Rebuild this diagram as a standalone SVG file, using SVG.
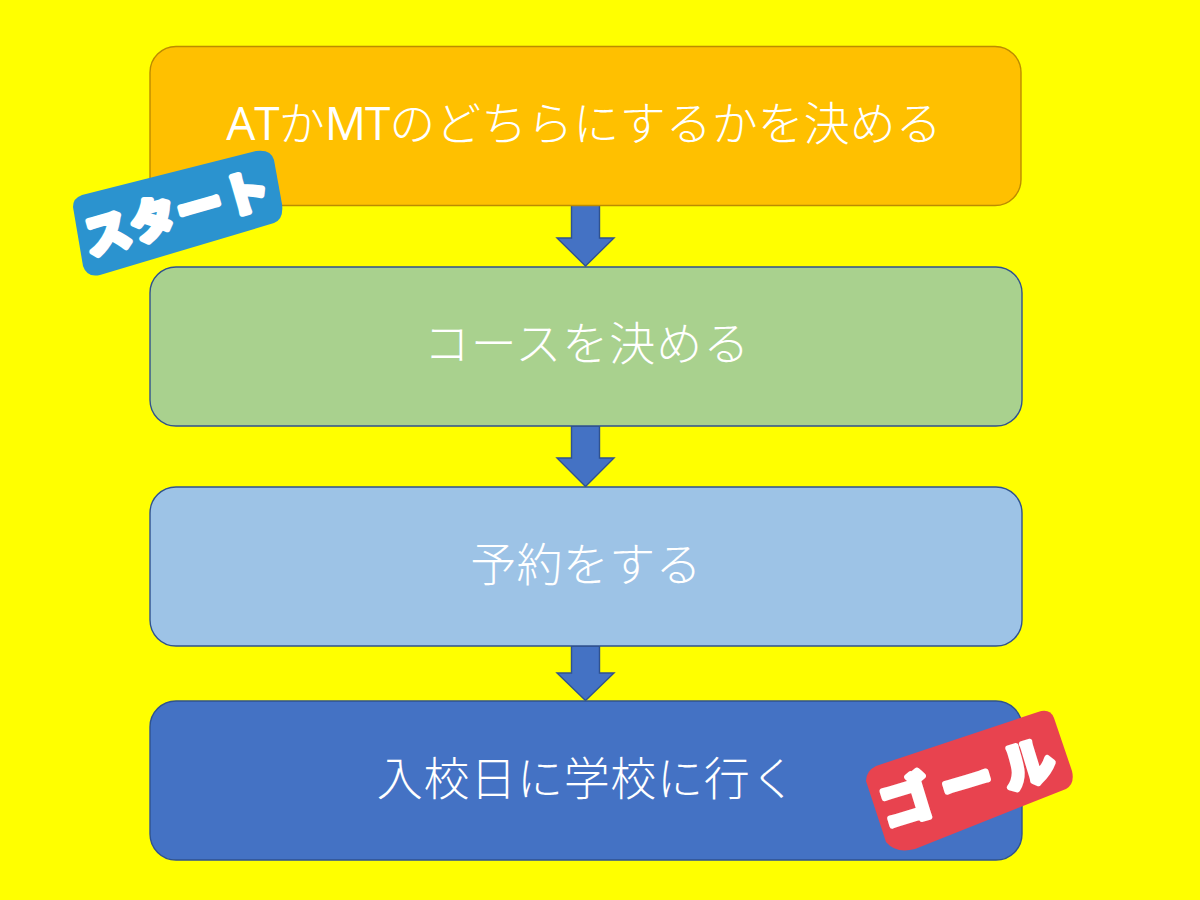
<svg xmlns="http://www.w3.org/2000/svg" width="1200" height="900" viewBox="0 0 1200 900">
<style>
.box{stroke:#2F528F;stroke-width:1.4}
.label{font-family:"Noto Sans CJK JP","Noto Sans",sans-serif;font-size:46px;font-weight:300;fill:#fff;text-anchor:middle}
.latin{font-family:"Open Sans","Noto Sans CJK JP",sans-serif;font-weight:400;letter-spacing:-1px}
.arrow{fill:#4472C4;stroke:#2F528F;stroke-width:1.4}
.badge{font-family:"Noto Sans CJK JP",sans-serif;font-weight:700;fill:#fff;stroke:#fff;stroke-linejoin:round;text-anchor:middle}
</style>
<rect width="1200" height="900" fill="#FFFF00"/>
<g id="connectors">
<path class="arrow" d="M571.500 205H599.500V238H614L585.500 266L557 238H571.500Z"/>
<path class="arrow" d="M571.500 426H599.500V458H614L585.500 486.500L557 458H571.500Z"/>
<path class="arrow" d="M571.500 646H599.500V673H614L585.500 700.500L557 673H571.500Z"/>
</g>
<g id="node-1">
<rect class="box" x="150" y="46.500" width="871" height="159" rx="26" fill="#FFC000" style="stroke:#BC8C00"/>
<text class="label" x="584" y="140"><tspan class="latin">AT</tspan>か<tspan class="latin">MT</tspan>のどちらにするかを決める</text>
</g>
<g id="node-2">
<rect class="box" x="150" y="267" width="872" height="159" rx="26" fill="#A9D18E"/>
<text class="label" x="587" y="360" style="letter-spacing:1px">コースを決める</text>
</g>
<g id="node-3">
<rect class="box" x="150" y="487" width="872" height="159" rx="26" fill="#9DC3E6"/>
<text class="label" x="586" y="581" style="letter-spacing:.3px">予約をする</text>
</g>
<g id="node-4">
<rect class="box" x="150" y="701" width="872" height="159" rx="26" fill="#4472C4"/>
<text class="label" x="587" y="795" style="letter-spacing:.7px">入校日に学校に行く</text>
</g>
<g id="badge-start">
<path fill="#2B93CF" d="M73 207Q73 198 82 195L256 151Q271 149 274 160L282 204Q284 219 274 223L100 275Q87 278 83 266Z"/>
<text class="badge" font-size="46" stroke-width="6" letter-spacing="2" transform="translate(182 229) rotate(-16)">スタート</text>
</g>
<g id="badge-goal">
<path fill="#E8434F" d="M866 781Q866 771 876 766L1038 712Q1050 708 1054 718L1072 771Q1075 784 1066 789L915 849Q896 854 886 842Z"/>
<text class="badge" font-size="52" stroke-width="6" letter-spacing="12" transform="translate(978 799) rotate(-17)">ゴール</text>
</g>
</svg>
